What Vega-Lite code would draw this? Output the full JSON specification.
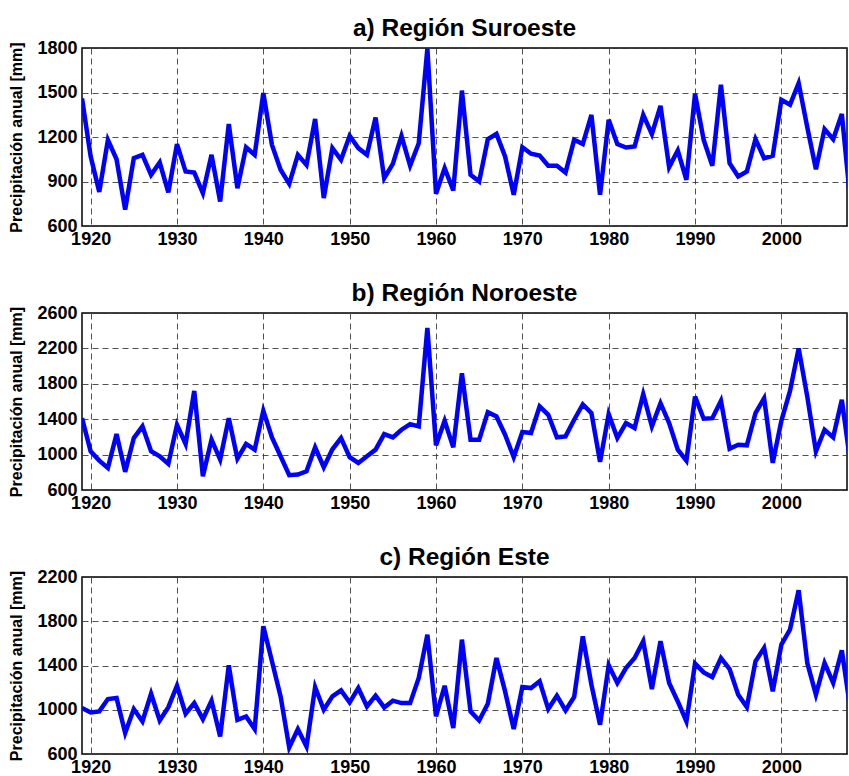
{
  "$schema": "https://vega.github.io/schema/vega-lite/v6.json",
  "background": "white",
  "padding": {"left": 8, "top": 14, "right": 0, "bottom": 0},
  "spacing": 30,
  "config": {
    "font": "Liberation Sans",
    "view": {"stroke": "black", "strokeWidth": 1.5},
    "title": {"fontSize": 24.5, "fontWeight": "bold", "font": "Liberation Sans", "color": "black", "anchor": "middle", "offset": -2},
    "axis": {
      "labelFont": "Liberation Sans", "labelFontSize": 18, "labelFontWeight": "bold", "labelColor": "black",
      "titleFont": "Liberation Sans", "titleFontSize": 16, "titleFontWeight": "bold", "titleColor": "black",
      "grid": true, "gridColor": "#333333", "gridDash": [6, 4], "gridWidth": 1, "gridOpacity": 0.85,
      "domain": false, "ticks": false
    },
    "axisX": {"labelPadding": 4},
    "axisY": {"labelPadding": 5, "titlePadding": 12}
  },
  "datasets": {
    "a": [
      {"year":1919,"value":1460},{"year":1920,"value":1070},{"year":1921,"value":830},{"year":1922,"value":1180},{"year":1923,"value":1050},{"year":1924,"value":710},{"year":1925,"value":1057},{"year":1926,"value":1080},{"year":1927,"value":945},{"year":1928,"value":1028},{"year":1929,"value":826},{"year":1930,"value":1152},{"year":1931,"value":967},{"year":1932,"value":960},{"year":1933,"value":821},{"year":1934,"value":1080},{"year":1935,"value":765},{"year":1936,"value":1287},{"year":1937,"value":855},{"year":1938,"value":1131},{"year":1939,"value":1080},{"year":1940,"value":1496},{"year":1941,"value":1147},{"year":1942,"value":979},{"year":1943,"value":884},{"year":1944,"value":1080},{"year":1945,"value":1012},{"year":1946,"value":1322},{"year":1947,"value":788},{"year":1948,"value":1125},{"year":1949,"value":1046},{"year":1950,"value":1208},{"year":1951,"value":1125},{"year":1952,"value":1080},{"year":1953,"value":1331},{"year":1954,"value":922},{"year":1955,"value":1019},{"year":1956,"value":1208},{"year":1957,"value":1006},{"year":1958,"value":1158},{"year":1959,"value":1795},{"year":1960,"value":817},{"year":1961,"value":990},{"year":1962,"value":839},{"year":1963,"value":1513},{"year":1964,"value":945},{"year":1965,"value":900},{"year":1966,"value":1185},{"year":1967,"value":1221},{"year":1968,"value":1069},{"year":1969,"value":810},{"year":1970,"value":1131},{"year":1971,"value":1087},{"year":1972,"value":1075},{"year":1973,"value":1006},{"year":1974,"value":1006},{"year":1975,"value":960},{"year":1976,"value":1181},{"year":1977,"value":1152},{"year":1978,"value":1349},{"year":1979,"value":810},{"year":1980,"value":1316},{"year":1981,"value":1152},{"year":1982,"value":1129},{"year":1983,"value":1136},{"year":1984,"value":1349},{"year":1985,"value":1219},{"year":1986,"value":1410},{"year":1987,"value":997},{"year":1988,"value":1109},{"year":1989,"value":911},{"year":1990,"value":1491},{"year":1991,"value":1181},{"year":1992,"value":1006},{"year":1993,"value":1552},{"year":1994,"value":1024},{"year":1995,"value":934},{"year":1996,"value":967},{"year":1997,"value":1185},{"year":1998,"value":1057},{"year":1999,"value":1073},{"year":2000,"value":1451},{"year":2001,"value":1417},{"year":2002,"value":1563},{"year":2003,"value":1266},{"year":2004,"value":983},{"year":2005,"value":1253},{"year":2006,"value":1185},{"year":2007,"value":1355},{"year":2008,"value":760}
    ],
    "b": [
      {"year":1919,"value":1412},{"year":1920,"value":1037},{"year":1921,"value":932},{"year":1922,"value":850},{"year":1923,"value":1232},{"year":1924,"value":805},{"year":1925,"value":1187},{"year":1926,"value":1319},{"year":1927,"value":1037},{"year":1928,"value":981},{"year":1929,"value":895},{"year":1930,"value":1337},{"year":1931,"value":1120},{"year":1932,"value":1720},{"year":1933,"value":756},{"year":1934,"value":1169},{"year":1935,"value":944},{"year":1936,"value":1412},{"year":1937,"value":955},{"year":1938,"value":1120},{"year":1939,"value":1056},{"year":1940,"value":1495},{"year":1941,"value":1195},{"year":1942,"value":981},{"year":1943,"value":767},{"year":1944,"value":775},{"year":1945,"value":812},{"year":1946,"value":1082},{"year":1947,"value":857},{"year":1948,"value":1060},{"year":1949,"value":1187},{"year":1950,"value":970},{"year":1951,"value":906},{"year":1952,"value":981},{"year":1953,"value":1056},{"year":1954,"value":1232},{"year":1955,"value":1195},{"year":1956,"value":1281},{"year":1957,"value":1345},{"year":1958,"value":1319},{"year":1959,"value":2432},{"year":1960,"value":1105},{"year":1961,"value":1382},{"year":1962,"value":1082},{"year":1963,"value":1919},{"year":1964,"value":1169},{"year":1965,"value":1169},{"year":1966,"value":1480},{"year":1967,"value":1431},{"year":1968,"value":1225},{"year":1969,"value":970},{"year":1970,"value":1255},{"year":1971,"value":1244},{"year":1972,"value":1544},{"year":1973,"value":1450},{"year":1974,"value":1195},{"year":1975,"value":1206},{"year":1976,"value":1394},{"year":1977,"value":1566},{"year":1978,"value":1469},{"year":1979,"value":917},{"year":1980,"value":1457},{"year":1981,"value":1187},{"year":1982,"value":1356},{"year":1983,"value":1300},{"year":1984,"value":1682},{"year":1985,"value":1319},{"year":1986,"value":1581},{"year":1987,"value":1356},{"year":1988,"value":1056},{"year":1989,"value":932},{"year":1990,"value":1656},{"year":1991,"value":1405},{"year":1992,"value":1412},{"year":1993,"value":1607},{"year":1994,"value":1067},{"year":1995,"value":1112},{"year":1996,"value":1105},{"year":1997,"value":1469},{"year":1998,"value":1637},{"year":1999,"value":906},{"year":2000,"value":1382},{"year":2001,"value":1720},{"year":2002,"value":2200},{"year":2003,"value":1656},{"year":2004,"value":1037},{"year":2005,"value":1281},{"year":2006,"value":1195},{"year":2007,"value":1619},{"year":2008,"value":900}
    ],
    "c": [
      {"year":1919,"value":1015},{"year":1920,"value":976},{"year":1921,"value":985},{"year":1922,"value":1097},{"year":1923,"value":1106},{"year":1924,"value":789},{"year":1925,"value":1006},{"year":1926,"value":894},{"year":1927,"value":1145},{"year":1928,"value":903},{"year":1929,"value":1024},{"year":1930,"value":1217},{"year":1931,"value":964},{"year":1932,"value":1060},{"year":1933,"value":915},{"year":1934,"value":1082},{"year":1935,"value":758},{"year":1936,"value":1402},{"year":1937,"value":909},{"year":1938,"value":940},{"year":1939,"value":825},{"year":1940,"value":1755},{"year":1941,"value":1438},{"year":1942,"value":1121},{"year":1943,"value":659},{"year":1944,"value":825},{"year":1945,"value":668},{"year":1946,"value":1205},{"year":1947,"value":1000},{"year":1948,"value":1121},{"year":1949,"value":1175},{"year":1950,"value":1066},{"year":1951,"value":1196},{"year":1952,"value":1030},{"year":1953,"value":1127},{"year":1954,"value":1021},{"year":1955,"value":1082},{"year":1956,"value":1060},{"year":1957,"value":1060},{"year":1958,"value":1287},{"year":1959,"value":1679},{"year":1960,"value":940},{"year":1961,"value":1217},{"year":1962,"value":834},{"year":1963,"value":1634},{"year":1964,"value":985},{"year":1965,"value":903},{"year":1966,"value":1054},{"year":1967,"value":1468},{"year":1968,"value":1166},{"year":1969,"value":825},{"year":1970,"value":1205},{"year":1971,"value":1196},{"year":1972,"value":1257},{"year":1973,"value":1006},{"year":1974,"value":1127},{"year":1975,"value":994},{"year":1976,"value":1115},{"year":1977,"value":1664},{"year":1978,"value":1226},{"year":1979,"value":864},{"year":1980,"value":1402},{"year":1981,"value":1242},{"year":1982,"value":1377},{"year":1983,"value":1468},{"year":1984,"value":1619},{"year":1985,"value":1187},{"year":1986,"value":1619},{"year":1987,"value":1242},{"year":1988,"value":1075},{"year":1989,"value":894},{"year":1990,"value":1417},{"year":1991,"value":1338},{"year":1992,"value":1296},{"year":1993,"value":1468},{"year":1994,"value":1368},{"year":1995,"value":1136},{"year":1996,"value":1024},{"year":1997,"value":1438},{"year":1998,"value":1559},{"year":1999,"value":1166},{"year":2000,"value":1589},{"year":2001,"value":1725},{"year":2002,"value":2081},{"year":2003,"value":1423},{"year":2004,"value":1136},{"year":2005,"value":1423},{"year":2006,"value":1242},{"year":2007,"value":1537},{"year":2008,"value":1000}
    ]
  },
  "vconcat": [
    {
      "title": "a) Región Suroeste",
      "width": 765, "height": 178,
      "data": {"name": "a"},
      "mark": {"type": "line", "color": "#0000FF", "strokeWidth": 4.5, "clip": true},
      "encoding": {
        "x": {"field": "year", "type": "quantitative", "scale": {"domain": [1919, 2007.6], "nice": false, "zero": false}, "axis": {"title": null, "values": [1920,1930,1940,1950,1960,1970,1980,1990,2000], "format": "d"}},
        "y": {"field": "value", "type": "quantitative", "scale": {"domain": [600, 1800], "nice": false, "zero": false}, "axis": {"title": "Precipitación anual [mm]", "values": [600,900,1200,1500,1800], "format": "d"}}
      }
    },
    {
      "title": "b) Región Noroeste",
      "width": 765, "height": 177,
      "data": {"name": "b"},
      "mark": {"type": "line", "color": "#0000FF", "strokeWidth": 4.5, "clip": true},
      "encoding": {
        "x": {"field": "year", "type": "quantitative", "scale": {"domain": [1919, 2007.6], "nice": false, "zero": false}, "axis": {"title": null, "values": [1920,1930,1940,1950,1960,1970,1980,1990,2000], "format": "d"}},
        "y": {"field": "value", "type": "quantitative", "scale": {"domain": [600, 2600], "nice": false, "zero": false}, "axis": {"title": "Precipitación anual [mm]", "values": [600,1000,1400,1800,2200,2600], "format": "d"}}
      }
    },
    {
      "title": "c) Región Este",
      "width": 765, "height": 177,
      "data": {"name": "c"},
      "mark": {"type": "line", "color": "#0000FF", "strokeWidth": 4.5, "clip": true},
      "encoding": {
        "x": {"field": "year", "type": "quantitative", "scale": {"domain": [1919, 2007.6], "nice": false, "zero": false}, "axis": {"title": null, "values": [1920,1930,1940,1950,1960,1970,1980,1990,2000], "format": "d"}},
        "y": {"field": "value", "type": "quantitative", "scale": {"domain": [600, 2200], "nice": false, "zero": false}, "axis": {"title": "Precipitación anual [mm]", "values": [600,1000,1400,1800,2200], "format": "d"}}
      }
    }
  ]
}
